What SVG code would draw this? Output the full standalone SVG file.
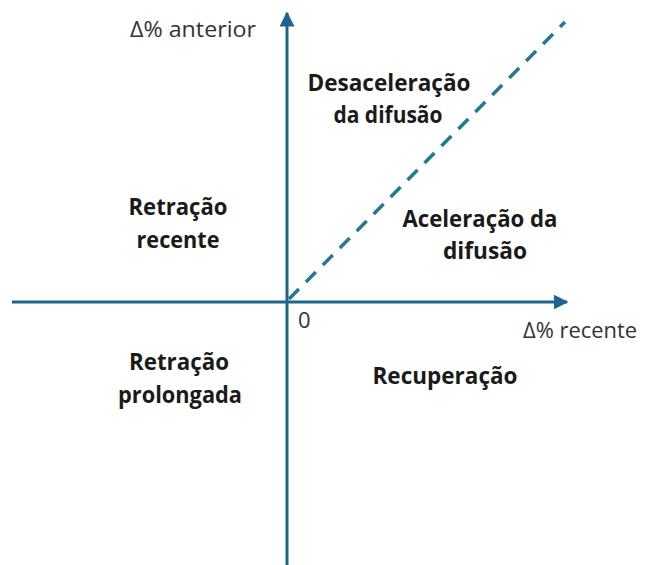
<svg xmlns="http://www.w3.org/2000/svg" width="645" height="565" viewBox="0 0 645 565">
<style>
.lbl{font-family:"Open Sans","Liberation Sans",sans-serif;font-weight:bold;font-size:23px;fill:#1a1a1a;text-anchor:middle}
.ax{font-family:"Open Sans","Liberation Sans",sans-serif;font-size:22px;fill:#333}
.axis{stroke:#1d6490;stroke-width:3;fill:none}
</style>
<defs>
<marker id="ah" viewBox="0 0 10 10" refX="9" refY="5" markerWidth="5" markerHeight="5" orient="auto" markerUnits="strokeWidth">
<path d="M0,0 L10,5 L0,10 z" fill="#1d6490"/>
</marker>
</defs>
<rect width="645" height="565" fill="#fff"/>
<g id="connectors">
<line class="axis" x1="12" y1="302" x2="567" y2="302" marker-end="url(#ah)"/>
<line class="axis" x1="287" y1="565" x2="287" y2="13" marker-end="url(#ah)"/>
<line x1="289" y1="299" x2="565" y2="22" stroke="#237a8e" stroke-width="3.5" stroke-dasharray="14,10"/>
</g>
<g id="axis-labels">
<text class="ax" x="130" y="37" textLength="126" lengthAdjust="spacingAndGlyphs">Δ% anterior</text>
<text class="ax" x="523" y="338" textLength="114" lengthAdjust="spacingAndGlyphs">Δ% recente</text>
<text class="ax" x="298" y="328">0</text>
</g>
<g id="desaceleracao"><text class="lbl" x="389" y="91" textLength="163" lengthAdjust="spacingAndGlyphs">Desaceleração</text><text class="lbl" x="388" y="123" textLength="109" lengthAdjust="spacingAndGlyphs">da difusão</text></g>
<g id="retracao-recente"><text class="lbl" x="178" y="215" textLength="99" lengthAdjust="spacingAndGlyphs">Retração</text><text class="lbl" x="178" y="248" textLength="83" lengthAdjust="spacingAndGlyphs">recente</text></g>
<g id="aceleracao"><text class="lbl" x="480" y="227" textLength="155" lengthAdjust="spacingAndGlyphs">Aceleração da</text><text class="lbl" x="485" y="259" textLength="84" lengthAdjust="spacingAndGlyphs">difusão</text></g>
<g id="retracao-prolongada"><text class="lbl" x="179" y="370" textLength="100" lengthAdjust="spacingAndGlyphs">Retração</text><text class="lbl" x="180" y="403" textLength="124" lengthAdjust="spacingAndGlyphs">prolongada</text></g>
<g id="recuperacao"><text class="lbl" x="445" y="384" textLength="145" lengthAdjust="spacingAndGlyphs">Recuperação</text></g>
</svg>
